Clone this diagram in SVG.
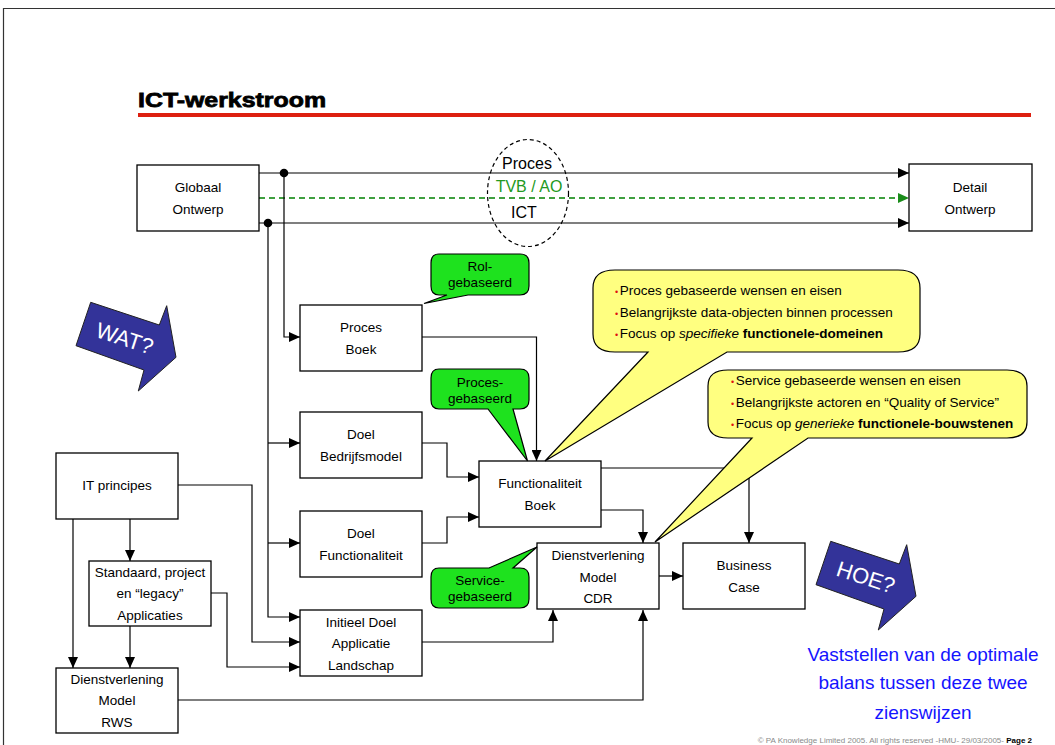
<svg xmlns="http://www.w3.org/2000/svg" width="1055" height="745" viewBox="0 0 1055 745">
  <defs>
    <marker id="arr" viewBox="0 0 11 10" refX="11" refY="5" markerWidth="11" markerHeight="10" markerUnits="userSpaceOnUse" orient="auto">
      <path d="M0,0 L11,5 L0,10 z" fill="#000"/>
    </marker>
    <marker id="arrG" viewBox="0 0 11 10" refX="11" refY="5" markerWidth="11" markerHeight="10" markerUnits="userSpaceOnUse" orient="auto">
      <path d="M0,0 L11,5 L0,10 z" fill="#1a8c1a"/>
    </marker>
    <polygon id="bigArrow" points="90.7,302.3 159.3,325 166.7,305.7 176,357.3 138.3,391 144,370 76,345.7"/>
  </defs>
  <style>
    text { font-family: "Liberation Sans", Arial, sans-serif; }
    .box { fill: #fff; stroke: #000; stroke-width: 1.3; }
    .lbl { font-size: 13.5px; fill: #000; text-anchor: middle; }
    .line { fill: none; stroke: #000; stroke-width: 1.2; }
    .arrow { marker-end: url(#arr); }
    .green { fill: #1ee21e; stroke: #000; stroke-width: 1.2; }
    .yellow { fill: #ffff80; stroke: #000; stroke-width: 1.2; }
    .note { font-size: 13.5px; fill: #000; }
    .bul { fill: #e01010; font-size: 9px; }
    .bigtxt { font-size: 16px; text-anchor: middle; }
    .blue { fill: #333399; stroke: #222; stroke-width: 1; }
  </style>

  <!-- page frame -->
  <path d="M3.5,745 V8.5 H1055" fill="none" stroke="#333" stroke-width="1.2"/>

  <!-- heading -->
  <text x="138" y="107" font-size="21" font-weight="bold" stroke="#000" stroke-width="0.8" textLength="188" lengthAdjust="spacingAndGlyphs">ICT-werkstroom</text>
  <rect x="138" y="113" width="893" height="4" fill="#dd1f10"/>

  <!-- connectors -->
  <g id="connectors">
    <path class="line arrow" d="M259,173 H909"/>
    <path d="M259,198 H909" fill="none" stroke="#008000" stroke-width="1.6" stroke-dasharray="6,4" marker-end="url(#arrG)"/>
    <path class="line arrow" d="M259,223 H909"/>
    <circle cx="284" cy="173" r="4.3" fill="#000"/>
    <circle cx="268" cy="223" r="4.3" fill="#000"/>

    <path class="line arrow" d="M284,173 V337 H300"/>
    <path class="line arrow" d="M268,223 V617 H300"/>
    <path class="line arrow" d="M268,443 H300"/>
    <path class="line arrow" d="M268,543 H300"/>

    <path class="line arrow" d="M422,337 H536.5 V461"/>
    <path class="line arrow" d="M422,443 H447 V477 H479"/>
    <path class="line arrow" d="M422,543 H447 V517 H479"/>

    <path class="line arrow" d="M601,510 H643 V543"/>
    <path class="line arrow" d="M601,468 H749 V543"/>
    <path class="line arrow" d="M659,576 H683"/>

    <path class="line arrow" d="M422,642 H553 V610"/>
    <path class="line arrow" d="M178,700 H643 V610"/>

    <path class="line arrow" d="M178,485 H252 V642 H300"/>
    <path class="line arrow" d="M211,593 H227 V667 H300"/>
    <path class="line arrow" d="M130,519 V561"/>
    <path class="line arrow" d="M73,519 V668"/>
    <path class="line arrow" d="M130,626 V668"/>
  </g>

  <!-- stream labels -->
  <g id="streams">
    <ellipse cx="528" cy="193" rx="40.5" ry="53.5" fill="none" stroke="#000" stroke-width="1.2" stroke-dasharray="4,3"/>
    <text class="bigtxt" x="527" y="169" fill="#000">Proces</text>
    <text class="bigtxt" x="529" y="192" fill="#229922">TVB / AO</text>
    <text class="bigtxt" x="524" y="218" fill="#000">ICT</text>
  </g>

  <!-- nodes -->
  <g id="globaal-ontwerp">
    <rect class="box" x="137" y="165" width="122" height="66"/>
    <text class="lbl" x="198" y="192">Globaal</text>
    <text class="lbl" x="198" y="214">Ontwerp</text>
  </g>
  <g id="detail-ontwerp">
    <rect class="box" x="909" y="164" width="123" height="67"/>
    <text class="lbl" x="970" y="192">Detail</text>
    <text class="lbl" x="970" y="214">Ontwerp</text>
  </g>
  <g id="proces-boek">
    <rect class="box" x="300" y="305" width="122" height="66"/>
    <text class="lbl" x="361" y="332">Proces</text>
    <text class="lbl" x="361" y="354">Boek</text>
  </g>
  <g id="doel-bedrijfsmodel">
    <rect class="box" x="300" y="412" width="122" height="66"/>
    <text class="lbl" x="361" y="439">Doel</text>
    <text class="lbl" x="361" y="461">Bedrijfsmodel</text>
  </g>
  <g id="doel-functionaliteit">
    <rect class="box" x="300" y="511" width="122" height="66"/>
    <text class="lbl" x="361" y="538">Doel</text>
    <text class="lbl" x="361" y="560">Functionaliteit</text>
  </g>
  <g id="initieel-doel">
    <rect class="box" x="300" y="610" width="122" height="66"/>
    <text class="lbl" x="361" y="627">Initieel Doel</text>
    <text class="lbl" x="361" y="648">Applicatie</text>
    <text class="lbl" x="361" y="670">Landschap</text>
  </g>
  <g id="functionaliteit-boek">
    <rect class="box" x="479" y="461" width="122" height="66"/>
    <text class="lbl" x="540" y="488">Functionaliteit</text>
    <text class="lbl" x="540" y="510">Boek</text>
  </g>
  <g id="dienstverlening-cdr">
    <rect class="box" x="537" y="543" width="122" height="66"/>
    <text class="lbl" x="598" y="560">Dienstverlening</text>
    <text class="lbl" x="598" y="582">Model</text>
    <text class="lbl" x="598" y="603">CDR</text>
  </g>
  <g id="business-case">
    <rect class="box" x="683" y="543" width="122" height="66"/>
    <text class="lbl" x="744" y="570">Business</text>
    <text class="lbl" x="744" y="592">Case</text>
  </g>
  <g id="it-principes">
    <rect class="box" x="56" y="453" width="122" height="66"/>
    <text class="lbl" x="117" y="490">IT principes</text>
  </g>
  <g id="standaard-applicaties">
    <rect class="box" x="89" y="561" width="122" height="65"/>
    <text class="lbl" x="150" y="577">Standaard, project</text>
    <text class="lbl" x="150" y="598">en “legacy”</text>
    <text class="lbl" x="150" y="620">Applicaties</text>
  </g>
  <g id="dienstverlening-rws">
    <rect class="box" x="56" y="668" width="122" height="65"/>
    <text class="lbl" x="117" y="684">Dienstverlening</text>
    <text class="lbl" x="117" y="705">Model</text>
    <text class="lbl" x="117" y="727">RWS</text>
  </g>

  <!-- green callouts -->
  <g id="rol-gebaseerd">
    <path class="green" d="M439,254 H520 Q529,254 529,263 V286 Q529,295 520,295 H468 L424,303.5 L447,295 H439 Q431,295 431,286 V263 Q431,254 439,254 Z"/>
    <text class="lbl" x="480" y="271">Rol-</text>
    <text class="lbl" x="480" y="287">gebaseerd</text>
  </g>
  <g id="proces-gebaseerd">
    <path class="green" d="M439,369 H520 Q529,369 529,378 V400 Q529,409 520,409 H513 L527.5,461 L488,409 H439 Q431,409 431,400 V378 Q431,369 439,369 Z"/>
    <text class="lbl" x="480" y="387">Proces-</text>
    <text class="lbl" x="480" y="403">gebaseerd</text>
  </g>
  <g id="service-gebaseerd">
    <path class="green" d="M439,568 H489 L537,547 L513,568 H520 Q529,568 529,577 V599 Q529,608 520,608 H439 Q431,608 431,599 V577 Q431,568 439,568 Z"/>
    <text class="lbl" x="480" y="585">Service-</text>
    <text class="lbl" x="480" y="601">gebaseerd</text>
  </g>

  <!-- yellow notes -->
  <g id="note-proces">
    <path class="yellow" d="M615,270 H898 Q920,270 920,288 V334 Q920,352 898,352 H727 L545,461 L648,352 H615 Q593,352 593,334 V288 Q593,270 615,270 Z"/>
    <text class="note" x="615" y="295"><tspan class="bul">•</tspan><tspan dx="1.5">Proces gebaseerde wensen en eisen</tspan></text>
    <text class="note" x="615" y="317"><tspan class="bul">•</tspan><tspan dx="1.5">Belangrijkste data-objecten binnen processen</tspan></text>
    <text class="note" x="615" y="338"><tspan class="bul">•</tspan><tspan dx="1.5">Focus op </tspan><tspan font-style="italic">specifieke</tspan> <tspan font-weight="bold">functionele-domeinen</tspan></text>
  </g>
  <g id="note-service">
    <path class="yellow" d="M728,370 H1007 Q1027,370 1027,386 V422 Q1027,438 1007,438 H808 L655,542 L752,438 H728 Q708,438 708,422 V386 Q708,370 728,370 Z"/>
    <text class="note" x="731" y="385"><tspan class="bul">•</tspan><tspan dx="1.5">Service gebaseerde wensen en eisen</tspan></text>
    <text class="note" x="731" y="407"><tspan class="bul">•</tspan><tspan dx="1.5">Belangrijkste actoren en “Quality of Service”</tspan></text>
    <text class="note" x="731" y="428"><tspan class="bul">•</tspan><tspan dx="1.5">Focus op </tspan><tspan font-style="italic">generieke</tspan> <tspan font-weight="bold">functionele-bouwstenen</tspan></text>
  </g>

  <!-- WAT / HOE arrows -->
  <g id="wat">
    <use href="#bigArrow" class="blue"/>
    <text x="125" y="346" font-size="22" fill="#fff" text-anchor="middle" transform="rotate(18 125 338)">WAT?</text>
  </g>
  <g id="hoe">
    <use href="#bigArrow" class="blue" transform="translate(740 239)"/>
    <text x="866" y="585" font-size="22" fill="#fff" text-anchor="middle" transform="rotate(18 866 577)">HOE?</text>
  </g>

  <!-- conclusion -->
  <g id="conclusie" font-size="19" fill="#1414ff" text-anchor="middle">
    <text x="923" y="661">Vaststellen van de optimale</text>
    <text x="923" y="689">balans tussen deze twee</text>
    <text x="923" y="719">zienswijzen</text>
  </g>

  <!-- footer -->
  <text x="1032" y="743" font-size="8" fill="#8a8a8a" text-anchor="end">© PA Knowledge Limited 2005. All rights reserved -HMU- 29/03/2005- <tspan font-weight="bold" fill="#000">Page 2</tspan></text>
</svg>
